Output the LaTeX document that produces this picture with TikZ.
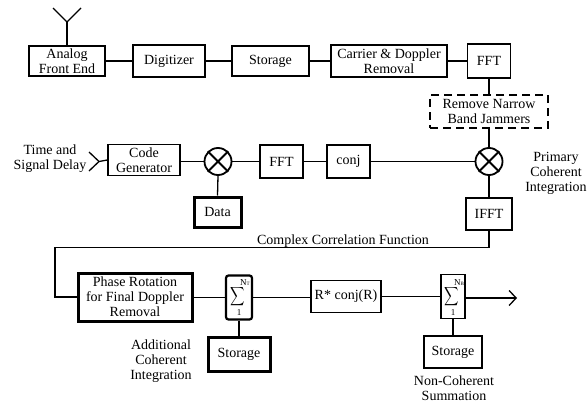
\documentclass[tikz,border=0pt]{standalone}
\usepackage{fontspec}
\usepackage{graphicx}
\setmainfont{Liberation Serif}
\usetikzlibrary{arrows.meta}
\newcommand{\bigsig}{\scalebox{1}[1.3]{$\displaystyle\sum$}}
\begin{document}
\begin{tikzpicture}[x=1pt,y=-1pt,
  every node/.style={font=\fontsize{14}{15}\selectfont, inner sep=0pt, align=center},
  box/.style={draw, line width=1.3pt},
  thickbox/.style={draw, line width=3pt},
  dashbox/.style={draw, line width=1.6pt, dash pattern=on 8pt off 5pt},
  sumbox/.style={draw, line width=1.3pt, minimum width=24pt, minimum height=44pt},
  mult/.style={draw, circle, line width=1.8pt, minimum size=27pt},
  conn/.style={line width=1.3pt},
  small/.style={font=\fontsize{9}{9}\selectfont},
  sigma/.style={font=\fontsize{16}{16}\selectfont}
]
\useasboundingbox (0,0) rectangle (588,404);

% top row
\node[box, minimum width=76pt, minimum height=30pt] (afe) at (67,61) {Analog\\Front End};
\node[box, minimum width=72pt, minimum height=32pt] (dig) at (169,61) {Digitizer};
\node[box, minimum width=77pt, minimum height=30pt] (sto1) at (270.5,61) {Storage};
\node[box, minimum width=116pt, minimum height=32pt] (cdr) at (389,61) {Carrier \& Doppler\\Removal};
\node[box, minimum width=43pt, minimum height=34pt] (fft1) at (489,61) {FFT};
\node[dashbox, minimum width=118pt, minimum height=33pt] (jam) at (489,111.5) {Remove Narrow\\Band Jammers};

% antenna
\coordinate (ant) at (67,22);
\coordinate (antL) at (53,8);
\coordinate (antR) at (81,8);
\draw[conn] (antL) -- (ant) -- (antR);
\draw[conn] (ant) -- (afe.north);

\draw[conn] (afe.east) -- (dig.west);
\draw[conn] (dig.east) -- (sto1.west);
\draw[conn] (sto1.east) -- (cdr.west);
\draw[conn] (cdr.east) -- (fft1.west);
\draw[conn] (fft1.south) -- (jam.north);

% second row
\node (tsd) at (50,159) {Time and\\Signal Delay};
\coordinate (chevT) at (89,152);
\coordinate (chevB) at (89,171);
\coordinate (chev) at (99,161.5);
\draw[conn] (chevT) -- (chev) -- (chevB);
\node[box, minimum width=72pt, minimum height=31pt] (cg) at (144,160) {Code\\Generator};
\node[mult] (m1) at (218,161.5) {};
\draw[conn, line width=1.8pt] (m1.45) -- (m1.225) (m1.135) -- (m1.315);
\node[thickbox, minimum width=47pt, minimum height=30pt] (data) at (217.5,212) {Data};
\node[box, minimum width=43pt, minimum height=33pt] (fft2) at (281.5,161.5) {FFT};
\node[box, minimum width=43pt, minimum height=33pt] (conj) at (348.5,161.5) {conj};
\node[mult] (m2) at (489,161.5) {};
\draw[conn, line width=1.8pt] (m2.45) -- (m2.225) (m2.135) -- (m2.315);
\node (pci) at (556,173) {Primary\\Coherent\\Integration};
\node[box, minimum width=46pt, minimum height=32pt] (ifft) at (489,214) {IFFT};

\draw[conn] (chev) -- (cg.west);
\draw[conn] (cg.east |- chev) -- (m1.west);
\draw[conn] (m1.east) -- (fft2.west);
\draw[conn] (fft2.east) -- (conj.west);
\draw[conn] (conj.east) -- (m2.west);
\draw[conn] (m1.south) -- (data.north);
\draw[conn] (jam.south) -- (m2.north);
\draw[conn] (m2.south) -- (ifft.north);

% feedback line
\coordinate (c1) at (489,247.5);
\coordinate (c2) at (55,247.5);
\node[box, line width=3pt, minimum width=114pt, minimum height=48pt] (phase) at (135,297) {Phase Rotation\\for Final Doppler\\Removal};
\draw[conn] (ifft.south) -- (c1) -- (c2) |- (phase.west);
\node[anchor=base] (ccf) at (343,244.5) {Complex Correlation Function};

% third row
\node[draw, line width=2.2pt, rounded corners=2.5pt, minimum width=26pt, minimum height=44pt] (sum1) at (239,297.5) {};
\node[sigma] (sig1) at (237.5,297) {\bigsig};
\node[small] (nt1) at (245,283) {N{\fontsize{5}{5}\selectfont T}};
\node[small] (one1) at (239,313) {1};
\node[thickbox, minimum width=62pt, minimum height=34pt] (sto2) at (239,354) {Storage};
\node (aci) at (161,361) {Additional\\Coherent\\Integration};

\node[box, minimum width=70pt, minimum height=32pt] (rconj) at (346,296.5) {R* conj(R)};
\node[sumbox] (sum2) at (453,296.5) {};
\node[sigma] (sig2) at (452,296.5) {\bigsig};
\node[small] (nb2) at (459,282.5) {N{\fontsize{5}{5}\selectfont B}};
\node[small] (one2) at (453,312.5) {1};
\node[box, minimum width=58pt, minimum height=32pt] (sto3) at (453,352) {Storage};
\node (ncs) at (454,388.5) {Non-Coherent\\Summation};
\coordinate (out) at (517,298);

\draw[conn] (phase.east |- sum1.west) -- (sum1.west);
\draw[conn] (sum1.east) -- (rconj.west |- sum1.east);
\draw[conn] (rconj.east |- sum2.west) -- (sum2.west);
\draw[conn, -{Straight Barb[length=7pt,width=15pt,line width=1.3pt]}] (sum2.east |- out) -- (out);
\draw[conn] (sum1.south) -- (sto2.north);
\draw[conn] (sum2.south) -- (sto3.north);
\end{tikzpicture}
\end{document}
